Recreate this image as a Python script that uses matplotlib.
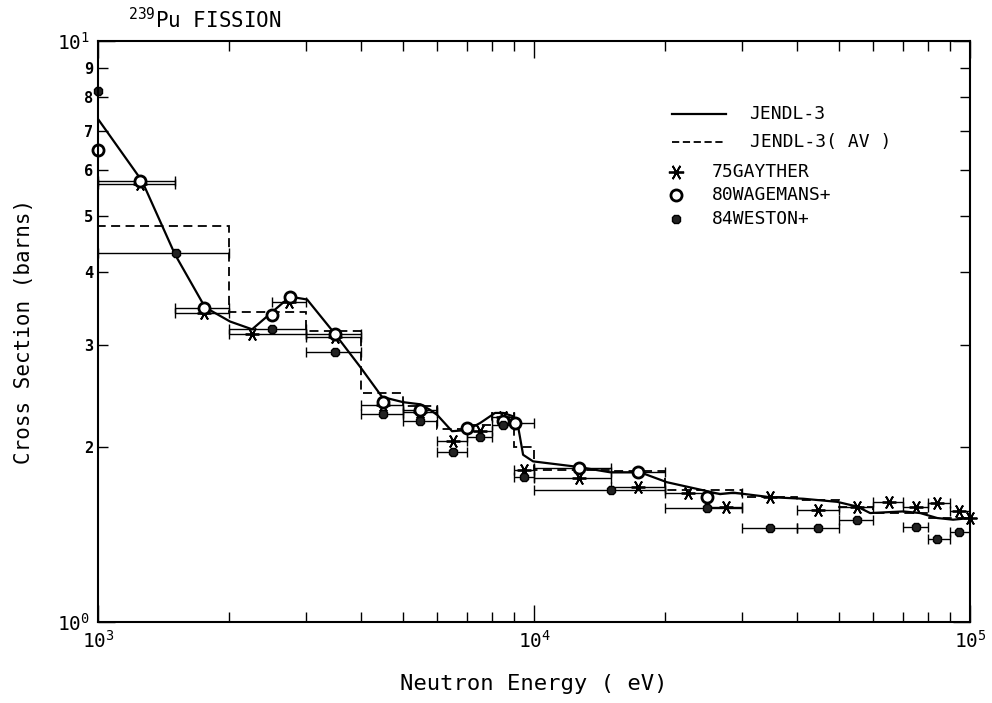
import numpy as np
import matplotlib.pyplot as plt
from matplotlib.ticker import FixedLocator, NullFormatter

plt.rcParams['font.family'] = ['DejaVu Sans Mono', 'DejaVu Sans']
plt.rcParams['mathtext.fontset'] = 'custom'

# JENDL-3 evaluated curve
e_j3 = [1000, 1262, 1502, 1760, 2008, 2256, 2756, 3016, 3497, 3990, 4481, 5007,
        5477, 5766, 6002, 6484, 7020, 7518, 8138, 8490, 8949, 9160, 9436, 9948,
        12550, 14940, 17500, 20180, 24030, 26710, 28610, 34780, 41400, 49550,
        55070, 58970, 70200, 76800, 84030, 91400, 100000]
s_j3 = [7.34, 5.74, 4.29, 3.48, 3.29, 3.19, 3.63, 3.59, 3.13, 2.75, 2.44, 2.39,
        2.37, 2.32, 2.27, 2.13, 2.14, 2.20, 2.29, 2.29, 2.26, 2.20, 1.94, 1.89,
        1.85, 1.81, 1.81, 1.74, 1.69, 1.66, 1.67, 1.64, 1.63, 1.61,
        1.58, 1.54, 1.55, 1.54, 1.51, 1.50, 1.51]

# JENDL-3 group averages
av_edges = [1000, 2000, 3000, 4000, 5000, 6000, 7000, 8000, 9000, 10000,
            15000, 20000, 30000, 40000, 50000, 60000, 80000, 100000]
av_vals = [4.80, 3.42, 3.17, 2.48, 2.35, 2.15, 2.18, 2.29, 2.00,
           1.83, 1.82, 1.69, 1.64, 1.62, 1.58, 1.54, 1.51]

# 75GAYTHER
g_e = [1250, 1750, 2250, 2740, 3500, 4500, 5480, 6530, 7520, 8500, 9490, 12700,
       17300, 22500, 27600, 34800, 44800, 54900, 65000, 75000, 84100, 94300, 100000]
g_s = [5.68, 3.40, 3.13, 3.56, 3.10, 2.36, 2.30, 2.05, 2.13, 2.25, 1.83, 1.77,
       1.71, 1.67, 1.58, 1.64, 1.56, 1.58, 1.61, 1.58, 1.60, 1.55, 1.51]
g_lo = [1000, 1500, 2000, 2500, 3000, 4000, 5000, 6000, 7000, 8000, 9000, 10000,
        15000, 20000, 25000, 34800, 40000, 50000, 60000, 70000, 80000, 90000, 100000]
g_hi = [1500, 2000, 3000, 3000, 4000, 5000, 6000, 7000, 8000, 9000, 10000, 15000,
        20000, 30000, 30000, 34800, 50000, 60000, 70000, 80000, 90000, 100000, 100000]

# 80WAGEMANS+
w_e = [1000, 1250, 1750, 2500, 2750, 3500, 4500, 5480, 7020, 8500, 9050, 12700,
       17300, 24900]
w_s = [6.48, 5.75, 3.47, 3.38, 3.62, 3.13, 2.39, 2.32, 2.16, 2.22, 2.20, 1.84,
       1.81, 1.64]
w_lo = [1000, 1000, 1500, 2500, 2750, 3000, 4500, 5000, 7020, 8500, 9000, 10000,
        15000, 24900]
w_hi = [1000, 1500, 2000, 2500, 2750, 4000, 4500, 6000, 7020, 8500, 10000, 15000,
        20000, 24900]

# 84WESTON+
x_e = [1000, 1510, 2500, 3500, 4500, 5480, 6530, 7520, 8500, 9490, 15000, 24900,
       34800, 44800, 54900, 75000, 84100, 94300]
x_s = [8.20, 4.31, 3.19, 2.92, 2.28, 2.22, 1.96, 2.08, 2.18, 1.78, 1.69, 1.57,
       1.45, 1.45, 1.50, 1.46, 1.39, 1.43]
x_lo = [1000, 1000, 2000, 3000, 4000, 5000, 6000, 7000, 8000, 9000, 10000, 20000,
        30000, 40000, 50000, 70000, 80000, 90000]
x_hi = [1000, 2000, 3000, 4000, 5000, 6000, 7000, 8000, 9000, 10000, 20000, 30000,
        40000, 50000, 60000, 80000, 90000, 100000]

fig = plt.figure(figsize=(9.92, 7.03), dpi=100)
ax = fig.add_axes([0.0988, 0.1152, 0.8792, 0.8265])
ax.set_xscale('log')
ax.set_yscale('log')
ax.set_xlim(1e3, 1e5)
ax.set_ylim(1, 10)

ax.plot(e_j3, s_j3, '-', color='black', lw=1.6)
ax.stairs(av_vals, av_edges, color='black', lw=1.3, ls=(0, (5, 3)))


def bars(e, s, lo, hi):
    e = np.array(e, float); s = np.array(s, float)
    lo = np.array(lo, float); hi = np.array(hi, float)
    m = hi > lo
    ax.errorbar(e[m], s[m], xerr=[e[m] - lo[m], hi[m] - e[m]], fmt='none',
                ecolor='black', elinewidth=1.0, capsize=3.5, capthick=1.0)


bars(g_e, g_s, g_lo, g_hi)
bars(w_e, w_s, w_lo, w_hi)
bars(x_e, x_s, x_lo, x_hi)

star = (6, 2, 90)
ax.plot(g_e, g_s, ls='none', marker=star, ms=10, mew=1.3, color='black', clip_on=False)
ax.plot(w_e, w_s, ls='none', marker='o', ms=8, mfc='white', mec='black', mew=2.0,
        clip_on=False)
ax.plot(x_e, x_s, ls='none', marker='8', ms=7, mfc='#222222', mec='black', mew=1.0,
        clip_on=False)

# ticks
ax.tick_params(which='both', direction='in', top=True, right=True, width=1.0)
ax.tick_params(which='major', length=12, labelsize=14, pad=6)
ax.tick_params(which='minor', length=7, labelsize=11)
ax.xaxis.set_major_locator(FixedLocator([1e3, 1e4, 1e5]))
ax.set_xticklabels([r'$\mathdefault{10^{3}}$', r'$\mathdefault{10^{4}}$',
                    r'$\mathdefault{10^{5}}$'])
ax.xaxis.set_minor_locator(FixedLocator([k * 10 ** p for p in (3, 4) for k in range(2, 10)]))
ax.xaxis.set_minor_formatter(NullFormatter())
ax.yaxis.set_major_locator(FixedLocator([1, 10]))
ax.set_yticklabels([r'$\mathdefault{10^{0}}$', r'$\mathdefault{10^{1}}$'])
ax.set_yticks(list(range(2, 10)), [str(k) for k in range(2, 10)], minor=True)
for t in ax.yaxis.get_minorticklabels():
    t.set_fontweight('bold')
for sp in ax.spines.values():
    sp.set_linewidth(1.5)

ax.set_xlabel('Neutron Energy ( eV)', fontsize=16, labelpad=16)
ax.set_ylabel('Cross Section (barns)', fontsize=15, labelpad=16)
fig.text(0.129, 0.972, r'$\mathdefault{^{239}}$Pu FISSION', fontsize=15,
         ha='left', va='center')

# legend drawn by hand
tr = ax.transAxes
rows = [0.875, 0.826, 0.775, 0.735, 0.694]
ax.plot([0.658, 0.720], [rows[0]] * 2, '-', color='black', lw=1.6, transform=tr)
ax.plot([0.658, 0.720], [rows[1]] * 2, color='black', lw=1.3, ls=(0, (4, 2)), transform=tr)
ax.plot([0.663], [rows[2]], marker=star, ms=11, mew=1.3, color='black', transform=tr)
ax.plot([0.663], [rows[3]], marker='o', ms=8, mfc='white', mec='black', mew=2.0, transform=tr)
ax.plot([0.663], [rows[4]], marker='8', ms=7, mfc='#222222', mec='black', transform=tr)
labels = ['JENDL-3', 'JENDL-3( AV )', '75GAYTHER', '80WAGEMANS+', '84WESTON+']
xs = [0.747, 0.747, 0.704, 0.704, 0.704]
for xx, yy, lab in zip(xs, rows, labels):
    ax.text(xx, yy, lab, transform=tr, fontsize=13, va='center', ha='left')

fig.savefig('out.png', dpi=100)
